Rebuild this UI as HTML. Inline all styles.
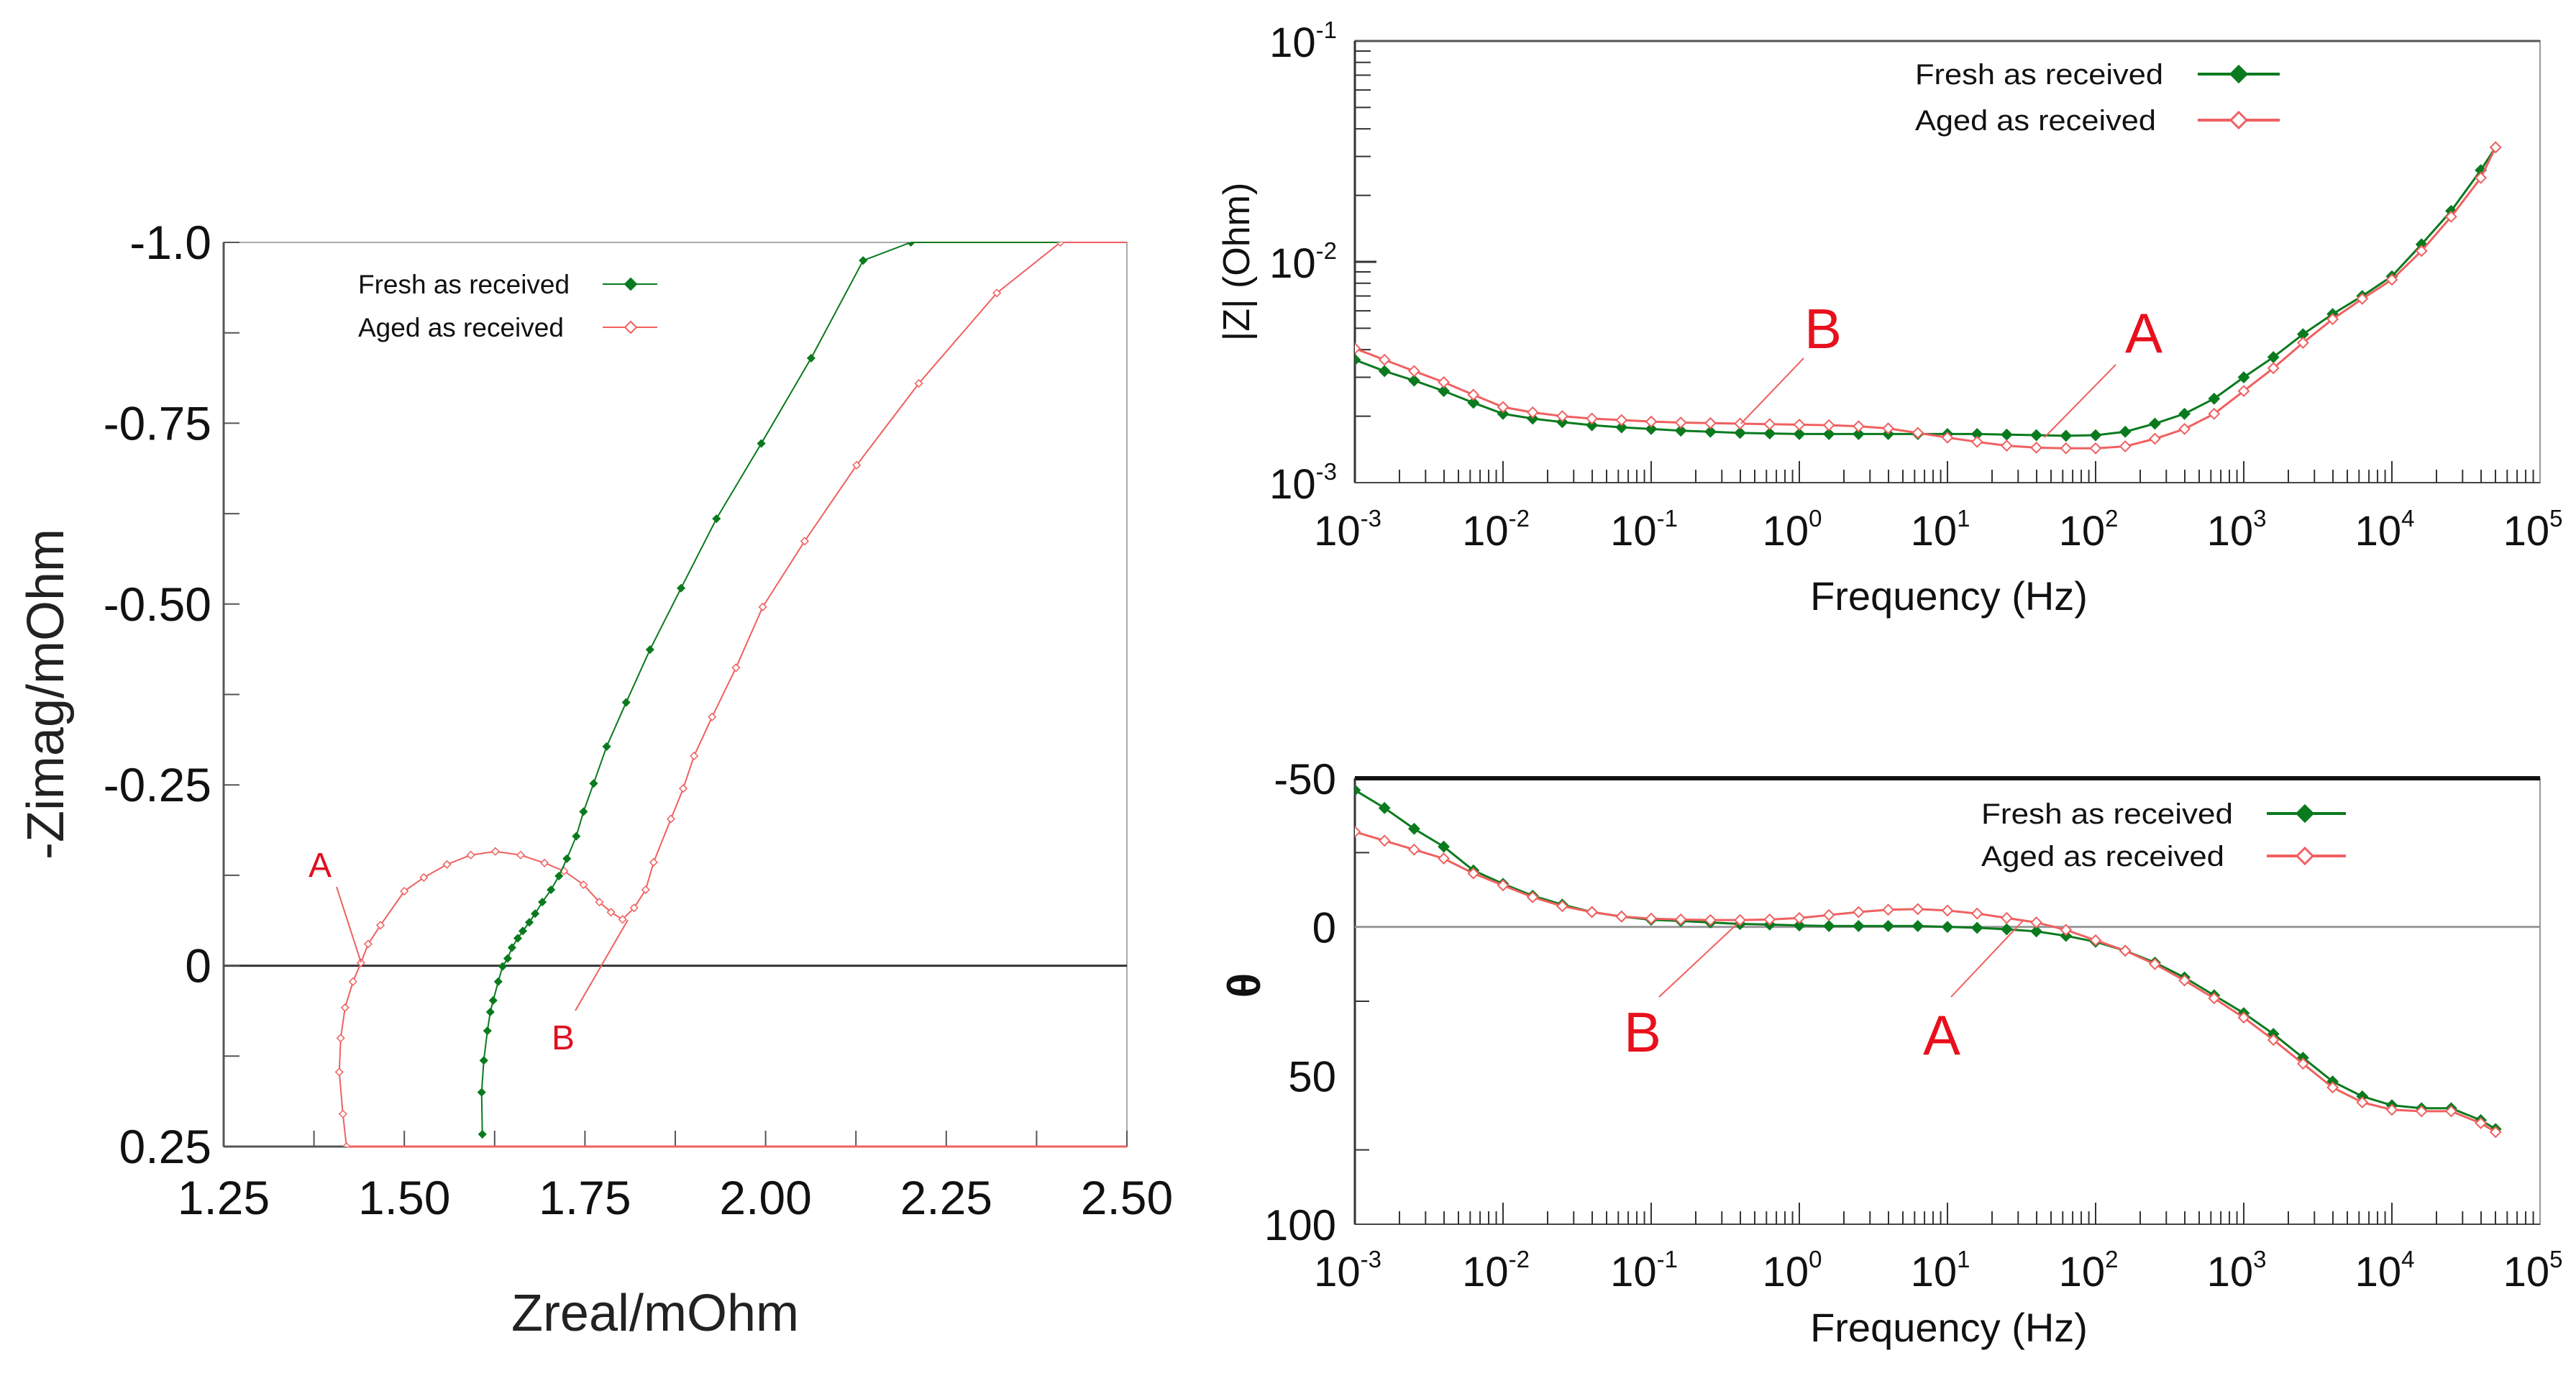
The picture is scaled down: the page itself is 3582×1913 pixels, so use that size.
<!DOCTYPE html>
<html><head><meta charset="utf-8"><style>
html,body{margin:0;padding:0;background:#fff;}
svg{display:block;font-family:"Liberation Sans",Arial,sans-serif;}
</style></head><body>
<svg id="fig" width="3582" height="1913" viewBox="0 0 3582 1913" xmlns="http://www.w3.org/2000/svg">
<rect width="3582" height="1913" fill="#fff"/>
<g id="nyq"></g>
<g id="mag"></g>
<g id="ph"></g>
</svg>
<script>
// ---- Nyquist data (mOhm) ----
const nyqFreshRe = [1.608,1.607,1.610,1.615,1.619,1.623,1.630,1.636,1.643,1.649,1.657,1.664,1.673,1.681,1.691,1.703,1.714,1.725,1.738,1.748,1.762,1.780,1.807,1.840,1.883,1.932,1.994,2.063,2.135,2.201];
const nyqFreshIm = [0.233,0.175,0.131,0.090,0.064,0.048,0.022,0.001,-0.010,-0.025,-0.038,-0.048,-0.060,-0.072,-0.088,-0.105,-0.124,-0.148,-0.179,-0.213,-0.252,-0.303,-0.364,-0.437,-0.522,-0.618,-0.722,-0.840,-0.975,-1.0];
const nyqAgedRe = [1.420,1.415,1.410,1.412,1.418,1.429,1.440,1.450,1.467,1.500,1.527,1.559,1.592,1.626,1.661,1.694,1.721,1.748,1.770,1.786,1.802,1.818,1.834,1.845,1.869,1.886,1.901,1.926,1.959,1.996,2.054,2.126,2.212,2.320,2.408];
const nyqAgedIm = [0.250,0.205,0.147,0.100,0.058,0.022,-0.004,-0.030,-0.056,-0.103,-0.122,-0.140,-0.153,-0.158,-0.153,-0.142,-0.131,-0.112,-0.088,-0.074,-0.064,-0.080,-0.105,-0.143,-0.203,-0.245,-0.290,-0.344,-0.412,-0.496,-0.587,-0.692,-0.805,-0.930,-1.0];
const nyqXTicks = ["1.25","1.50","1.75","2.00","2.25","2.50"];
const nyqYTicks = ["-1.0","-0.75","-0.50","-0.25","0","0.25"];

// ---- Bode data ----
const logFreq = [-3,-2.8,-2.6,-2.4,-2.2,-2,-1.8,-1.6,-1.4,-1.2,-1,-0.8,-0.6,-0.4,-0.2,0,0.2,0.4,0.6,0.8,1,1.2,1.4,1.6,1.8,2,2.2,2.4,2.6,2.8,3,3.2,3.4,3.6,3.8,4,4.2,4.4,4.6,4.7];
const magFresh = [3.6,3.2,2.9,2.6,2.3,2.05,1.95,1.88,1.82,1.78,1.75,1.72,1.70,1.68,1.67,1.66,1.66,1.66,1.66,1.66,1.66,1.66,1.65,1.64,1.63,1.64,1.70,1.85,2.05,2.4,3.0,3.7,4.7,5.8,7.0,8.6,12,17,26,33]; // milli-ohm
const magAged = [4.05,3.6,3.2,2.85,2.5,2.2,2.08,2.0,1.95,1.92,1.89,1.87,1.86,1.85,1.84,1.83,1.82,1.80,1.76,1.68,1.60,1.53,1.47,1.44,1.43,1.43,1.46,1.58,1.75,2.05,2.6,3.3,4.3,5.5,6.8,8.3,11.2,16,24,33];
const phFresh = [-46,-40,-33,-27,-19,-14.5,-10.5,-7.5,-5,-3.5,-2.4,-2,-1.5,-1,-0.8,-0.5,-0.3,-0.3,-0.3,-0.3,0,0.3,0.8,1.5,3,5,8,12,17,23,29,36,44,52,57,60,61,61,65,68];
const phAged = [-32,-29,-26,-23,-18,-14,-10,-7,-5,-3.5,-2.8,-2.5,-2.3,-2.3,-2.5,-3,-4,-5,-5.8,-6,-5.5,-4.5,-3,-1.5,1,4.5,8,12.5,18,24,30.5,38,46,54,59,61.5,62,62,66,69];
const decadeExps = ["-3","-2","-1","0","1","2","3","4","5"];
const magYExps = ["-1","-2","-3"];
const phYTicks = ["-50","0","50","100"];
const legendLabels = ["Fresh as received","Aged as received"];

const NS="http://www.w3.org/2000/svg";
function mk(parent,tag,attrs,text){const e=document.createElementNS(NS,tag);for(const k in attrs)e.setAttribute(k,attrs[k]);if(text!==undefined)e.textContent=text;parent.appendChild(e);return e;}
const GREEN="#0a7a1e", RED="#f06060";

// ===== Nyquist =====
(function(){
  const g=document.getElementById('nyq');
  const L=311,R=1567,T=337,B=1594;
  const sx=v=>L+(v-1.25)/1.25*(R-L);
  const sy=v=>T+(v+1.0)/1.25*(B-T);
  const cp=mk(g,'clipPath',{id:'nyqclip'});mk(cp,'rect',{x:L,y:T,width:R-L,height:B-T});
  let e=mk(g,'rect',{x:L,y:T,width:R-L,height:B-T,fill:'none',stroke:'#aaa','stroke-width':2});
  
  mk(g,'line',{x1:L,y1:T,x2:L,y2:B,stroke:'#555','stroke-width':3});
  mk(g,'line',{x1:L,y1:B,x2:R,y2:B,stroke:'#555','stroke-width':3});
  e=mk(g,'line',{x1:L,y1:sy(0),x2:R,y2:sy(0),stroke:'#333','stroke-width':3});
  
  nyqYTicks.forEach((t,i)=>{const y=sy(parseFloat(t));
    mk(g,'line',{x1:L,y1:y,x2:L+22,y2:y,stroke:'#555','stroke-width':2});
    const ym=sy(parseFloat(t)+0.125); if(i<nyqYTicks.length-1) mk(g,'line',{x1:L,y1:ym,x2:L+22,y2:ym,stroke:'#555','stroke-width':2});
    const tx=mk(g,'text',{x:294,y:y+23,'font-size':66,'text-anchor':'end',fill:'#111'},t);
    
  });
  nyqXTicks.forEach((t,i)=>{const x=sx(parseFloat(t));
    mk(g,'line',{x1:x,y1:B,x2:x,y2:B-22,stroke:'#555','stroke-width':2});
    if(i<nyqXTicks.length-1){const xm=sx(parseFloat(t)+0.125);mk(g,'line',{x1:xm,y1:B,x2:xm,y2:B-22,stroke:'#555','stroke-width':2});}
    const tx=mk(g,'text',{x:x,y:1688,'font-size':66,'text-anchor':'middle',fill:'#111'},t);
    
  });
  mk(g,'line',{x1:sx(1.42),y1:B,x2:R,y2:B,stroke:RED,'stroke-width':3});
  mk(g,'line',{x1:sx(2.201),y1:T,x2:sx(2.408),y2:T,stroke:GREEN,'stroke-width':2});
  mk(g,'line',{x1:sx(2.408),y1:T,x2:R,y2:T,stroke:RED,'stroke-width':2});
  function series(re,im,col,filled,name){
    const s=mk(g,'g',{'clip-path':'url(#nyqclip)'});
    
    mk(s,'polyline',{points:re.map((v,i)=>sx(v)+','+sy(im[i])).join(' '),fill:'none',stroke:col,'stroke-width':2});
    re.forEach((v,i)=>{const x=sx(v),y=sy(im[i]),r=5;
      const m=mk(s,'polygon',{points:`${x},${y-r} ${x+r},${y} ${x},${y+r} ${x-r},${y}`,fill:filled?col:'#fff',stroke:col,'stroke-width':1.5});
      });
  }
  series(nyqAgedRe,nyqAgedIm,RED,false,'aged-series');
  series(nyqFreshRe,nyqFreshIm,GREEN,true,'fresh-series');
  const lg=mk(g,'g',{});
  [[395,GREEN,true],[455,RED,false]].forEach((d,i)=>{
    const t=mk(lg,'text',{x:498,y:d[0]+13,'font-size':37,fill:'#111'},legendLabels[i]);
    
    mk(lg,'line',{x1:838,y1:d[0],x2:914,y2:d[0],stroke:d[1],'stroke-width':2});
    const x=877,y=d[0],r=8;mk(lg,'polygon',{points:`${x},${y-r} ${x+r},${y} ${x},${y+r} ${x-r},${y}`,fill:d[2]?d[1]:'#fff',stroke:d[1],'stroke-width':2});
  });
  let a=mk(g,'text',{x:445,y:1219,'font-size':48,fill:'#e01020','text-anchor':'middle'},'A');
  mk(g,'line',{x1:468,y1:1233,x2:502,y2:1338,stroke:RED,'stroke-width':2});
  a=mk(g,'text',{x:783,y:1459,'font-size':48,fill:'#e01020','text-anchor':'middle'},'B');
  mk(g,'line',{x1:800,y1:1405,x2:873,y2:1279,stroke:RED,'stroke-width':2});
  a=mk(g,'text',{x:911,y:1850,'font-size':72,'text-anchor':'middle',fill:'#222'},'Zreal/mOhm');
  a=mk(g,'text',{x:0,y:0,'font-size':72,'text-anchor':'middle',fill:'#222',transform:'translate(88,965) rotate(-90)'},'-Zimag/mOhm');
})();

// ===== Bode helpers =====
function bode(gid,T,B,ymap,yvalsF,yvalsA,opts){
  const g=document.getElementById(gid);
  const L=1884,R=3532;
  const sx=lf=>L+(lf+3)/8*(R-L);
  const cid=gid+'clip';const cp=mk(g,'clipPath',{id:cid});mk(cp,'rect',{x:L,y:T-10,width:R-L,height:B-T+10});
  let e=mk(g,'rect',{x:L,y:T,width:R-L,height:B-T,fill:'none',stroke:'#999','stroke-width':2});
  
  mk(g,'line',{x1:L,y1:T,x2:R,y2:T,stroke:opts.topCol,'stroke-width':opts.topW});
  mk(g,'line',{x1:L,y1:T,x2:L,y2:B,stroke:'#333','stroke-width':3});
  mk(g,'line',{x1:L,y1:B,x2:R,y2:B,stroke:'#444','stroke-width':2});
  decadeExps.forEach((ex,i)=>{const d=parseInt(ex);const x=sx(d);
    if(i>0&&i<decadeExps.length-1) mk(g,'line',{x1:x,y1:B,x2:x,y2:B-30,stroke:'#333','stroke-width':2});
    if(i<decadeExps.length-1) for(let k=2;k<=9;k++){const xm=sx(d+Math.log10(k));mk(g,'line',{x1:xm,y1:B,x2:xm,y2:B-18,stroke:'#333','stroke-width':2});}
    const t=mk(g,'text',{x:x-10,y:opts.xLabY,'font-size':58,'text-anchor':'middle',fill:'#111'});
    
    mk(t,'tspan',{},'10');mk(t,'tspan',{dy:-26,'font-size':33},ex);
  });
  opts.yticks(g,L);
  function series(vals,col,filled,name){
    const s=mk(g,'g',{'clip-path':'url(#'+cid+')'});
    
    mk(s,'polyline',{points:logFreq.map((lf,i)=>sx(lf)+','+ymap(vals[i])).join(' '),fill:'none',stroke:col,'stroke-width':3});
    logFreq.forEach((lf,i)=>{const x=sx(lf),y=ymap(vals[i]),r=7;
      const m=mk(s,'polygon',{points:`${x},${y-r} ${x+r},${y} ${x},${y+r} ${x-r},${y}`,fill:filled?col:'#fff',stroke:col,'stroke-width':2});
      });
  }
  series(yvalsF,GREEN,true,'fresh-series');
  series(yvalsA,RED,false,'aged-series');
  const lg=mk(g,'g',{});
  opts.leg.ys.forEach((y,i)=>{
    const t=mk(lg,'text',{x:opts.leg.tx,y:y+14,'font-size':40,fill:'#111',textLength:opts.leg.tl[i],lengthAdjust:'spacingAndGlyphs'},legendLabels[i]);
    
    const col=i==0?GREEN:RED;
    mk(lg,'line',{x1:opts.leg.l1,y1:y,x2:opts.leg.l2,y2:y,stroke:col,'stroke-width':4});
    const x=opts.leg.mx,r=11;mk(lg,'polygon',{points:`${x},${y-r} ${x+r},${y} ${x},${y+r} ${x-r},${y}`,fill:i==0?col:'#fff',stroke:col,'stroke-width':3});
  });
  opts.ann.forEach(a=>{const t=mk(g,'text',{x:a[0],y:a[1],'font-size':78,fill:'#e8101c','text-anchor':'middle'},a[2]);
    
    mk(g,'line',{x1:a[3],y1:a[4],x2:a[5],y2:a[6],stroke:RED,'stroke-width':2});});
  const xt=mk(g,'text',{x:2710,y:opts.titleY,'font-size':56,'text-anchor':'middle',fill:'#111'},'Frequency (Hz)');
  
}

// magnitude
(function(){
  const T=57,B=671,dec=(B-T)/2;
  const ymap=v=>B-(Math.log10(v/1000)+3)*dec;
  bode('mag',T,B,ymap,magFresh,magAged,{topCol:'#555',topW:3,xLabY:758,titleY:848,
    yticks:(g,L)=>{
      magYExps.forEach(ex=>{const y=B-(parseInt(ex)+3)*dec;
        const t=mk(g,'text',{x:1812,y:y+22,'font-size':58,'text-anchor':'middle',fill:'#111'});
        
        mk(t,'tspan',{},'10');mk(t,'tspan',{dy:-26,'font-size':33},ex);
        if(ex!=='-1') for(let k=2;k<=9;k++){const ym=y-Math.log10(k)*dec;mk(g,'line',{x1:L,y1:ym,x2:L+22,y2:ym,stroke:'#333','stroke-width':2});}
        if(ex==='-2') mk(g,'line',{x1:L,y1:y,x2:L+30,y2:y,stroke:'#333','stroke-width':3});
      });
      const a=mk(g,'text',{x:0,y:0,'font-size':52,'text-anchor':'middle',fill:'#111',transform:'translate(1737,364) rotate(-90)'},'|Z| (Ohm)');
      
    },
    leg:{ys:[103,167],tx:2663,tl:[345,335],l1:3056,l2:3170,mx:3113},
    ann:[[2535,484,'B',2508,498,2421,589],[2981,490,'A',2942,507,2843,608]]});
})();

// phase
(function(){
  const T=1082,B=1702;
  const ymap=v=>T+(v+50)/150*(B-T);
  bode('ph',T,B,ymap,phFresh,phAged,{topCol:'#111',topW:6,xLabY:1788,titleY:1865,
    yticks:(g,L)=>{
      phYTicks.forEach(t=>{const y=ymap(parseFloat(t));
        const tx=mk(g,'text',{x:1858,y:y+22,'font-size':60,'text-anchor':'end',fill:'#111'},t);
        
        if(t!=='100'){const ym=ymap(parseFloat(t)+25);mk(g,'line',{x1:L,y1:ym,x2:L+20,y2:ym,stroke:'#333','stroke-width':2});}
      });
      const z=mk(g,'line',{x1:L,y1:ymap(0),x2:3532,y2:ymap(0),stroke:'#999','stroke-width':3});
      
      const a=mk(g,'text',{x:0,y:0,'font-size':64,'font-weight':'bold','text-anchor':'middle',fill:'#111',transform:'translate(1752,1370) rotate(-90)'},'θ');
      
    },
    leg:{ys:[1131,1190],tx:2755,tl:[350,338],l1:3152,l2:3262,mx:3205},
    ann:[[2284,1462,'B',2307,1386,2416,1284],[2700,1466,'A',2713,1386,2814,1279]]});
})();
</script>
</body></html>
